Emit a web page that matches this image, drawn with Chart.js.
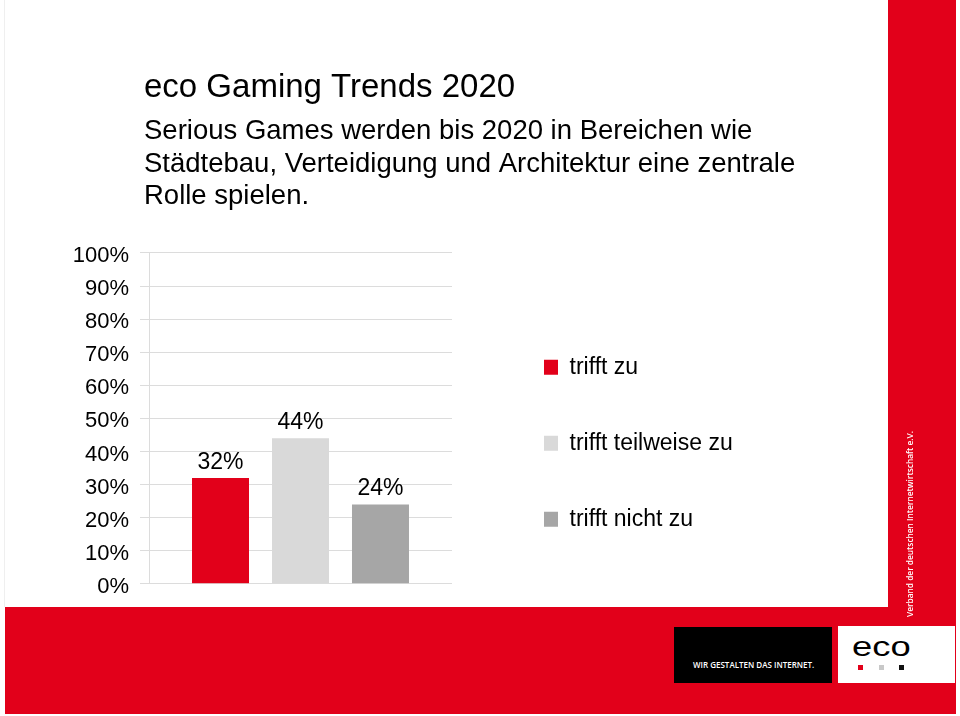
<!DOCTYPE html>
<html>
<head>
<meta charset="utf-8">
<script src="https://cdn.jsdelivr.net/npm/chart.js@4.4.1/dist/chart.umd.min.js"></script>
<style>
html,body{margin:0;padding:0;background:#fff;}
body{width:960px;height:716px;position:relative;overflow:hidden;font-family:'Liberation Sans',Arial,sans-serif;}
#wrap{position:absolute;left:0;top:0;width:885px;height:608px;}
#wrap canvas{display:block;}
.edge{position:absolute;left:4px;top:0;width:1px;height:607px;background:#efefef;}
.strip{position:absolute;left:888px;top:0;width:68px;height:607px;background:#e2001a;}
.band{position:absolute;left:5px;top:607px;width:951px;height:107px;background:#e2001a;}
.black{position:absolute;left:674px;top:627px;width:158px;height:56px;background:#000;}
.slogan{position:absolute;left:19px;top:33px;font-family:'Open Sans',sans-serif;font-weight:600;font-size:8px;line-height:9px;color:#fff;white-space:nowrap;}
.white{position:absolute;left:838px;top:626px;width:117px;height:57px;background:#fff;}
.eco{position:absolute;left:14px;top:7px;font-family:'Liberation Sans',Arial,sans-serif;font-size:28px;line-height:28px;color:#000;transform:scaleX(1.3);transform-origin:left center;white-space:nowrap;}
.dot{position:absolute;top:39px;width:5px;height:5px;}
.vtext{position:absolute;left:909px;top:524px;transform:translate(-50%,-50%) rotate(-90deg);font-family:'Open Sans',sans-serif;font-weight:600;font-size:8.3px;line-height:9px;color:#fff;white-space:nowrap;}
</style>
</head>
<body>
<div class="edge"></div>
<div id="wrap"><canvas id="c" width="885" height="608"></canvas></div>
<div class="strip"></div>
<div class="band"></div>
<div class="vtext">Verband der deutschen Internetwirtschaft e.V.</div>
<div class="black"><div class="slogan">WIR GESTALTEN DAS INTERNET.</div></div>
<div class="white">
  <div class="eco">eco</div>
  <div class="dot" style="left:20px;background:#e2001a"></div>
  <div class="dot" style="left:41px;background:#c8c8c8"></div>
  <div class="dot" style="left:61px;background:#111"></div>
</div>
<script>
const titleText = 'eco Gaming Trends 2020';
const subtitleLines = [
  'Serious Games werden bis 2020 in Bereichen wie',
  'Städtebau, Verteidigung und Architektur eine zentrale',
  'Rolle spielen.'
];
const categories = [''];
const seriesNames = ['trifft zu', 'trifft teilweise zu', 'trifft nicht zu'];
const seriesValues = [32, 44, 24];
const seriesColors = ['#e2001a', '#d9d9d9', '#a6a6a6'];
const yTickLabels = ['0%','10%','20%','30%','40%','50%','60%','70%','80%','90%','100%'];

const FONT = "'Liberation Sans', Arial, sans-serif";
Chart.defaults.font.family = FONT;
Chart.defaults.color = '#000';

const TITLE_LEFT = 144;
const LEGEND_BOX_WIDTH = 433;
const LEGEND_SHIFT = 39;

const layoutTweaks = {
  id: 'layoutTweaks',
  beforeLayout(chart) {
    const lg = chart.legend;
    if (lg && !lg.__patched) {
      const orig = lg.fit;
      lg.fit = function () { orig.call(this); this.width = LEGEND_BOX_WIDTH; };
      lg.__patched = true;
    }
  },
  afterLayout(chart) {
    chart.boxes.forEach(b => {
      if (!b.axis && b !== chart.legend && b.position === 'top') { b.left = TITLE_LEFT; }
    });
    const lg = chart.legend;
    if (lg) { lg.left += LEGEND_SHIFT; lg.right += LEGEND_SHIFT; }
  }
};

const barValueLabels = {
  id: 'barValueLabels',
  afterDatasetsDraw(chart) {
    const ctx = chart.ctx;
    ctx.save();
    ctx.font = '23px ' + FONT;
    ctx.fillStyle = '#000';
    ctx.textAlign = 'center';
    ctx.textBaseline = 'alphabetic';
    chart.data.datasets.forEach((ds, i) => {
      const meta = chart.getDatasetMeta(i);
      meta.data.forEach((bar, j) => {
        ctx.fillText(ds.data[j] + '%', bar.x, bar.y - 9);
      });
    });
    ctx.restore();
  }
};

new Chart(document.getElementById('c'), {
  type: 'bar',
  data: {
    labels: categories,
    datasets: seriesNames.map((name, i) => ({
      label: name,
      data: [seriesValues[i]],
      backgroundColor: seriesColors[i],
      borderWidth: 0,
      categoryPercentage: 0.792,
      barPercentage: 0.7125
    }))
  },
  options: {
    responsive: false,
    animation: false,
    layout: { padding: { left: 0, right: 0, top: 0, bottom: 0 } },
    scales: {
      x: { display: false, offset: true },
      y: {
        min: 0, max: 100,
        ticks: {
          stepSize: 10,
          callback: v => yTickLabels[Math.round(v / 10)],
          padding: 11,
          labelOffset: 3,
          font: { size: 22 },
          color: '#000'
        },
        grid: { color: '#dcdcdc', tickLength: 9, drawTicks: true },
        border: { color: '#dcdcdc' },
        afterFit(s) { s.width = 149; }
      }
    },
    plugins: {
      title: {
        display: true, text: titleText, align: 'start', fullSize: true,
        font: { size: 33, weight: 'normal' }, color: '#000',
        padding: { top: 68, bottom: 0 }
      },
      subtitle: {
        display: true, text: subtitleLines, align: 'start', fullSize: true,
        font: { size: 27.5, weight: 'normal', lineHeight: 1.18 }, color: '#000',
        padding: { top: 7.7, bottom: 40.3 }
      },
      legend: {
        display: true, position: 'right', align: 'end', fullSize: false,
        labels: { boxWidth: 14, boxHeight: 15, padding: 53, font: { size: 23 }, color: '#000' }
      },
      tooltip: { enabled: false }
    }
  },
  plugins: [layoutTweaks, barValueLabels]
});
</script>
</body>
</html>
